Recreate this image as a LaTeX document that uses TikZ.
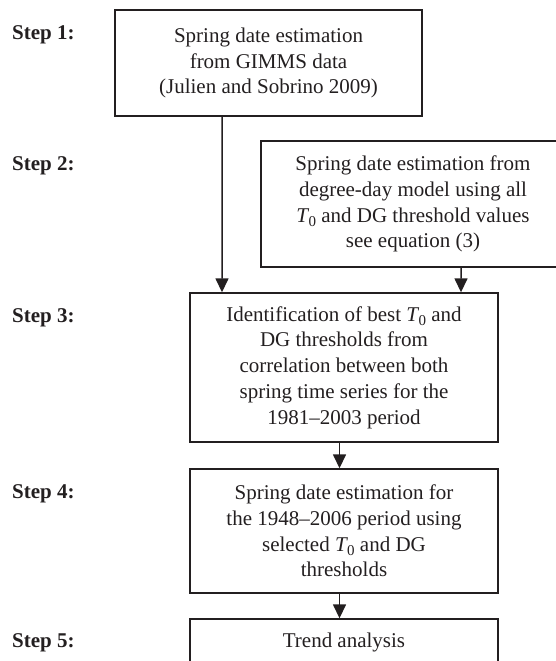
\documentclass[tikz,border=0pt]{standalone}
\usepackage{fontspec}
\setmainfont{Liberation Serif}
\usetikzlibrary{arrows.meta}
\definecolor{ink}{HTML}{231F20}
\newcommand{\Tzero}{{\itshape T}\kern0.5bp\raisebox{-4.5bp}{\fontsize{15bp}{15bp}\selectfont 0}}
\tikzset{
  box/.style={draw=ink, line width=1.4bp, text=ink, align=center, inner sep=0pt,
    font=\fontsize{21bp}{25.7bp}\selectfont},
  steplabel/.style={anchor=base west, text=ink, inner sep=0pt,
    font=\fontsize{21bp}{25.7bp}\selectfont\bfseries},
  arr/.style={draw=ink, line width=1.5bp, -{Triangle[length=14bp,width=13bp]}}
}
\begin{document}
\begin{tikzpicture}[x=1bp,y=-1bp]
\useasboundingbox (0,0) rectangle (556,661);
\clip (0,0) rectangle (556,661);
\node[box, minimum width=307bp, minimum height=106bp] (b1) at (268.5,63)
  {Spring date estimation\\from GIMMS data\\(Julien and Sobrino 2009)};
\node[box, minimum width=304bp, minimum height=126bp] (b2) at (413,204)
  {Spring date estimation from\\degree-day model using all\\\Tzero{} and DG threshold values\\see equation (3)};
\node[box, minimum width=308bp, minimum height=149bp] (b3) at (344,367.5)
  {Identification of best \Tzero{} and\\DG thresholds from\\correlation between both\\spring time series for the\\1981--2003 period};
\node[box, minimum width=308bp, minimum height=124bp] (b4) at (344,531)
  {Spring date estimation for\\the 1948--2006 period using\\selected \Tzero{} and DG\\thresholds};
\node[box, minimum width=308bp, minimum height=46bp] (b5) at (344,642)
  {Trend analysis};
\node[steplabel] (s1) at (12,40) {Step 1:};
\node[steplabel] (s2) at (12,170) {Step 2:};
\node[steplabel] (s3) at (12,322) {Step 3:};
\node[steplabel] (s4) at (12,498) {Step 4:};
\node[steplabel] (s5) at (12,647) {Step 5:};
\draw[arr] ([xshift=-46.5bp]b1.south) -- ([xshift=-122bp]b3.north);
\draw[arr] ([xshift=48bp]b2.south) -- ([xshift=117bp]b3.north);
\draw[arr] ([xshift=-4.5bp]b3.south) -- ([xshift=-4.5bp]b4.north);
\draw[arr] ([xshift=-4.5bp]b4.south) -- ([xshift=-4.5bp]b5.north);
\end{tikzpicture}
\end{document}
